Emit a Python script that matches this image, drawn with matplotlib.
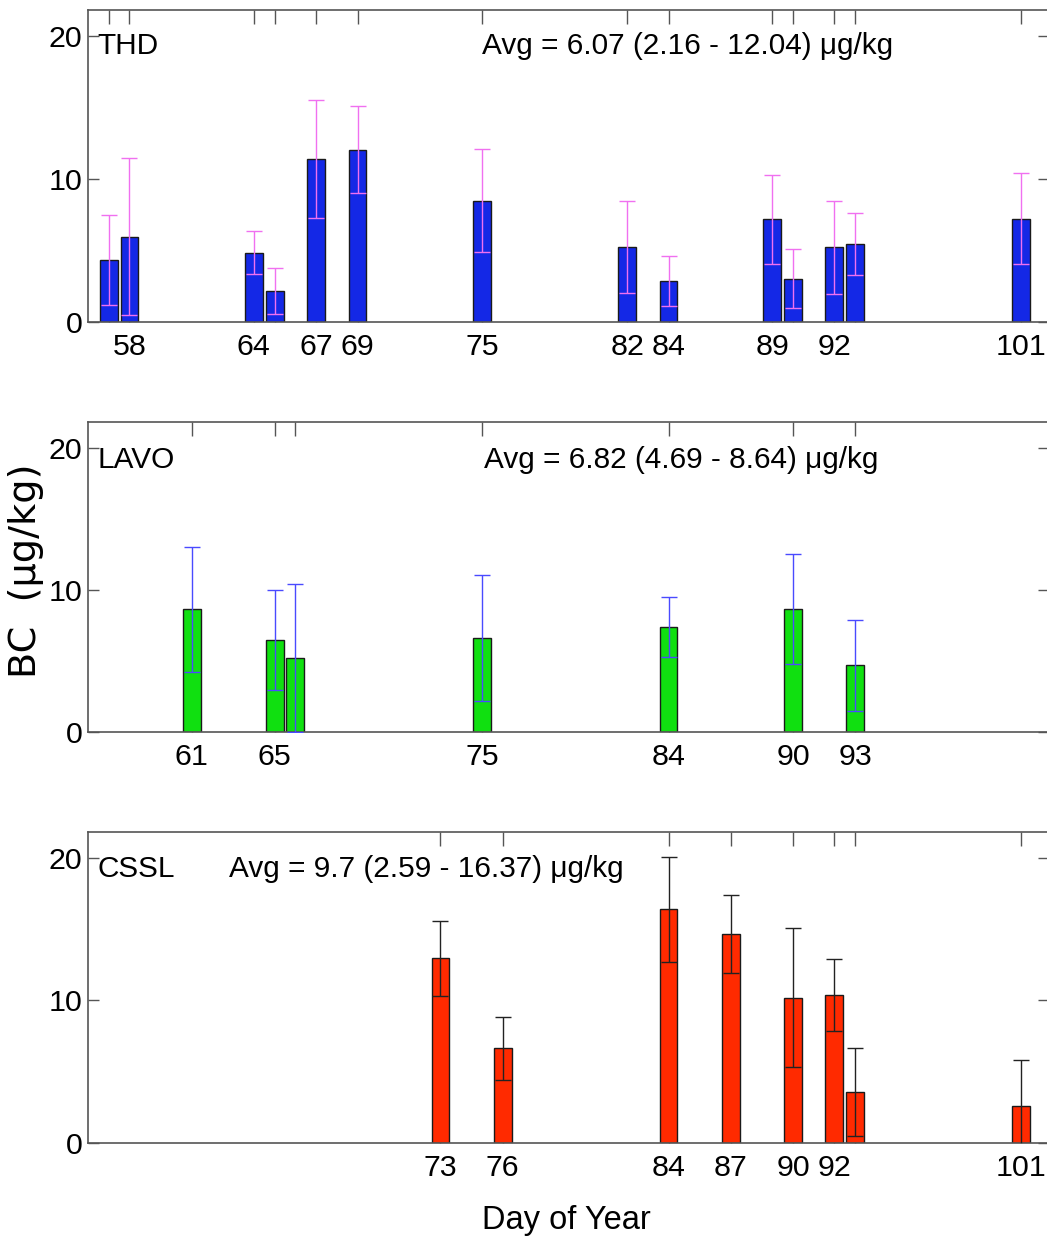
import matplotlib
matplotlib.use('Agg')
import matplotlib.pyplot as plt
from matplotlib import font_manager

# THD site
thd_day = [57, 58, 64, 65, 67, 69, 75, 82, 84, 89, 90, 92, 93, 101]
thd_bc = [4.34, 5.97, 4.85, 2.16, 11.4, 12.04, 8.46, 5.22, 2.87, 7.18, 3.03, 5.22, 5.45, 7.23]
thd_err = [3.15, 5.5, 1.5, 1.6, 4.1, 3.05, 3.6, 3.2, 1.77, 3.1, 2.06, 3.25, 2.2, 3.2]
thd_lbl = ['', '58', '64', '', '67', '69', '75', '82', '84', '89', '', '92', '', '101']

# LAVO site
lavo_day = [61, 65, 66, 75, 84, 90, 93]
lavo_bc = [8.62, 6.48, 5.21, 6.6, 7.39, 8.64, 4.69]
lavo_err = [4.4, 3.5, 5.2, 4.45, 2.12, 3.87, 3.2]
lavo_lbl = ['61', '65', '', '75', '84', '90', '93']

# CSSL site
cssl_day = [73, 76, 84, 87, 90, 92, 93, 101]
cssl_bc = [12.94, 6.64, 16.37, 14.65, 10.19, 10.38, 3.59, 2.59]
cssl_err = [2.63, 2.2, 3.7, 2.7, 4.87, 2.55, 3.1, 3.2]
cssl_lbl = ['73', '76', '84', '87', '90', '92', '', '101']

names = {f.name for f in font_manager.fontManager.ttflist}
if 'Liberation Sans Narrow' in names:
    narrow, k = 'Liberation Sans Narrow', 1.0
else:
    narrow, k = 'Liberation Sans', 0.84

W, H = 1047, 1243
fig = plt.figure(figsize=(W / 100, H / 100), dpi=100)

panels = [
    (10, 322, thd_day, thd_bc, thd_err, thd_lbl, '#1428e6', '#f070f0', 'THD',
     'Avg = 6.07 (2.16 - 12.04) \u03bcg/kg', 75.0, 19.3),
    (422, 732, lavo_day, lavo_bc, lavo_err, lavo_lbl, '#10e010', '#4a4aff', 'LAVO',
     'Avg = 6.82 (4.69 - 8.64) \u03bcg/kg', 75.1, 19.1),
    (832, 1143, cssl_day, cssl_bc, cssl_err, cssl_lbl, '#ff2a00', '#222222', 'CSSL',
     'Avg = 9.7 (2.59 - 16.37) \u03bcg/kg', 62.8, 19.2),
]

axs = []
for top, bot, day, bc, err, lbl, fc, ec, name, avg, ax_x, ax_y in panels:
    ax = fig.add_axes([88 / W, 1 - bot / H, (1049 - 88) / W, (bot - top) / H])
    ax.bar(day, bc, width=0.86, color=fc, edgecolor='#1a1a1a', linewidth=1.0, zorder=2)
    ax.errorbar(day, bc, yerr=err, fmt='none', ecolor=ec, elinewidth=1.0,
                capsize=5.5, capthick=1.0, zorder=3)
    ax.set_xlim(56, 102.35)
    ax.set_ylim(0, 21.8)
    ax.set_xticks(day)
    ax.set_xticklabels(lbl)
    ax.set_yticks([0, 10, 20])
    ax.set_axisbelow(True)
    ax.tick_params(direction='in', top=True, right=True, colors='#555555',
                   labelcolor='black', labelsize=26 * k, width=1.0)
    ax.tick_params(axis='x', length=10, pad=8)
    ax.tick_params(axis='y', length=8, pad=4)
    for lab in ax.get_xticklabels() + ax.get_yticklabels():
        lab.set_fontfamily(narrow)
    for s in ax.spines.values():
        s.set_color('#555555')
        s.set_linewidth(1.2)
    ax.text(56.45, ax_y, name, fontsize=25.5 * k, family=narrow, va='center', ha='left')
    ax.text(ax_x, ax_y, avg, fontsize=25.5 * k, family=narrow, va='center', ha='left')
    axs.append(ax)

fig.text(26 / W, 1 - 571 / H, 'BC  (\u03bcg/kg)', rotation=90, fontsize=27.5,
         family='DejaVu Sans', va='center', ha='center')
fig.text(566 / W, 1 - 1220 / H, 'Day of Year', fontsize=28 * k, family=narrow,
         va='center', ha='center')

fig.savefig('out.png', dpi=100)
